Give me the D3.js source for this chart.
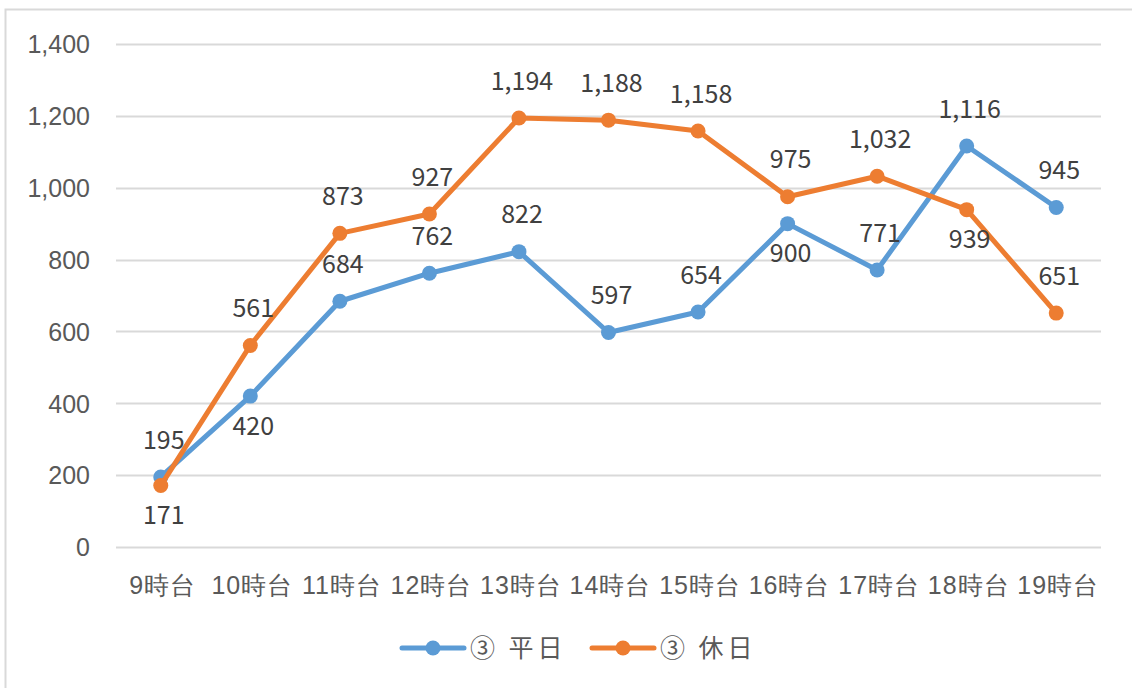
<!DOCTYPE html>
<html>
<head>
<meta charset="utf-8">
<script src="https://cdn.jsdelivr.net/npm/d3@7"></script>
<style>
  body { margin: 0; background: #fff; }
  svg { font-family: "Noto Sans CJK JP", "Noto Sans", sans-serif; }
</style>
</head>
<body>
<div id="chart"></div>
<script>
// Chart data
var hours = ["9時台", "10時台", "11時台", "12時台", "13時台", "14時台", "15時台", "16時台", "17時台", "18時台", "19時台"];
var weekday = [195, 420, 684, 762, 822, 597, 654, 900, 771, 1116, 945];
var holiday = [171, 561, 873, 927, 1194, 1188, 1158, 975, 1032, 939, 651];
var yTicks = [0, 200, 400, 600, 800, 1000, 1200, 1400];
var seriesNames = ["③ 平日", "③ 休日"];

// label side for each point: -1 above, 1 below
var weekdayPos = [-1, 1, -1, -1, -1, -1, -1, 1, -1, -1, -1];
var holidayPos = [1, -1, -1, -1, -1, -1, -1, -1, -1, 1, -1];

var width = 1132, height = 688;
var margin = {left: 116, right: 31, top: 44, bottom: 141};
var fontSize = "25px";

var svg = d3.select("#chart")
  .append("svg")
    .attr("width", width)
    .attr("height", height);

// Outer chart border
svg.append("rect")
  .attr("x", 5.5).attr("y", 9.5)
  .attr("width", 1140).attr("height", 700)
  .attr("fill", "none")
  .attr("stroke", "#d9d9d9")
  .attr("stroke-width", 2);

var x = d3.scaleBand()
  .domain(hours)
  .range([margin.left, width - margin.right]);

var y = d3.scaleLinear()
  .domain([0, 1400])
  .range([height - margin.bottom, margin.top]);

// Grid lines
svg.append("g")
  .selectAll("line")
  .data(yTicks)
  .join("line")
    .attr("x1", margin.left)
    .attr("x2", width - margin.right)
    .attr("y1", function(d) { return Math.round(y(d)) + 0.5; })
    .attr("y2", function(d) { return Math.round(y(d)) + 0.5; })
    .attr("stroke", "#d9d9d9")
    .attr("stroke-width", 2);

// Y axis labels
var yAxis = svg.append("g")
  .attr("transform", "translate(" + (margin.left - 26) + ",0)")
  .call(d3.axisLeft(y).tickValues(yTicks).tickSize(0).tickFormat(d3.format(",")));
yAxis.select(".domain").remove();
yAxis.selectAll("text")
  .attr("fill", "#595959")
  .style("font-size", fontSize)
  .attr("x", 0)
  .attr("dy", "0.35em");

// X axis labels
var xAxis = svg.append("g")
  .attr("transform", "translate(0," + (height - margin.bottom) + ")")
  .call(d3.axisBottom(x).tickSize(0));
xAxis.select(".domain").remove();
xAxis.selectAll("text")
  .attr("fill", "#595959")
  .style("font-size", fontSize)
  .style("letter-spacing", "1px")
  .attr("x", 2)
  .attr("y", 47)
  .attr("dy", "0");

var cx = function(d, i) { return x(hours[i]) + x.bandwidth() / 2; };

var series = [
  {name: seriesNames[0], values: weekday, pos: weekdayPos, color: "#5b9bd5"},
  {name: seriesNames[1], values: holiday, pos: holidayPos, color: "#ed7d31"}
];

var line = d3.line()
  .x(cx)
  .y(function(d) { return y(d); });

series.forEach(function(s) {
  var g = svg.append("g");
  g.append("path")
    .datum(s.values)
    .attr("d", line)
    .attr("fill", "none")
    .attr("stroke", s.color)
    .attr("stroke-width", 5)
    .attr("stroke-linejoin", "round")
    .attr("stroke-linecap", "round");
  g.selectAll("circle")
    .data(s.values)
    .join("circle")
      .attr("cx", cx)
      .attr("cy", function(d) { return y(d); })
      .attr("r", 7.5)
      .attr("fill", s.color);
});

// Data labels
series.forEach(function(s) {
  svg.append("g")
    .selectAll("text")
    .data(s.values)
    .join("text")
      .attr("x", function(d, i) { return cx(d, i) + 3; })
      .attr("y", function(d, i) { return y(d) + (s.pos[i] < 0 ? -37 : 30); })
      .attr("dy", "0.35em")
      .attr("text-anchor", "middle")
      .attr("fill", "#404040")
      .style("font-size", fontSize)
      .text(d3.format(","));
});

// Legend
var legend = svg.append("g")
  .selectAll("g")
  .data(series)
  .join("g")
    .attr("transform", function(d, i) { return "translate(" + (402 + i * 190) + ",648)"; });

legend.append("line")
  .attr("x1", 0).attr("x2", 62)
  .attr("stroke", function(d) { return d.color; })
  .attr("stroke-width", 5)
  .attr("stroke-linecap", "round");
legend.append("circle")
  .attr("cx", 31).attr("r", 7.5)
  .attr("fill", function(d) { return d.color; });
legend.append("text")
  .attr("x", 68)
  .attr("dy", "0.35em")
  .attr("fill", "#595959")
  .style("font-size", fontSize)
  .style("letter-spacing", "4px")
  .text(function(d) { return d.name; });
</script>
</body>
</html>
